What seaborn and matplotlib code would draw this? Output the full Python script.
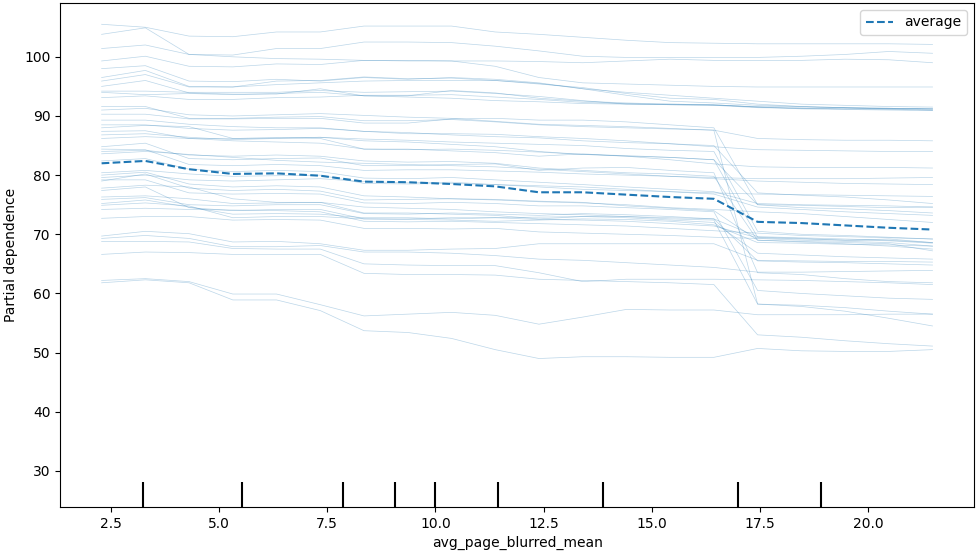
import numpy as np
import pandas as pd
import matplotlib
matplotlib.use("Agg")
import matplotlib.pyplot as plt
import matplotlib.transforms as mtransforms
import seaborn as sns

# ── Data ──────────────────────────────────────────────────────────────────
grid = [2.29, 3.30, 4.31, 5.32, 6.33, 7.34, 8.35, 9.36, 10.37, 11.38,
        12.39, 13.40, 14.41, 15.42, 16.43, 17.44, 18.45, 19.46, 20.47, 21.48]

average = [82.0, 82.4, 81.0, 80.2, 80.3, 79.9, 78.9, 78.8, 78.5, 78.1,
           77.1, 77.1, 76.7, 76.3, 76.0, 72.1, 71.9, 71.5, 71.1, 70.8]

deciles = [3.24, 5.54, 7.87, 9.07, 9.99, 11.44, 13.88, 16.99, 18.91]

ice_lines = [
    [105.5, 105.0, 103.5, 103.4, 104.2, 104.2, 105.2, 105.2, 105.2, 104.2, 103.8, 103.3, 102.8, 102.4, 102.3, 102.2, 102.2, 102.2, 102.2, 102.1],
    [103.8, 104.9, 100.4, 100.3, 101.4, 101.4, 102.5, 102.5, 102.4, 101.8, 101.0, 100.1, 99.9, 99.9, 99.9, 99.9, 100.1, 100.4, 100.9, 100.6],
    [101.4, 102.0, 100.4, 100.0, 99.7, 99.6, 99.4, 99.3, 99.3, 99.3, 99.2, 99.0, 99.3, 99.6, 99.4, 99.4, 99.4, 99.6, 99.5, 99.0],
    [99.3, 100.1, 98.4, 98.3, 98.8, 98.7, 99.4, 99.4, 99.3, 98.4, 96.5, 95.6, 95.4, 95.2, 95.0, 94.9, 94.9, 94.9, 94.9, 94.9],
    [98.0, 98.5, 95.9, 95.8, 96.2, 95.9, 96.5, 96.2, 96.5, 96.2, 95.6, 94.6, 94.0, 93.5, 93.0, 92.5, 92.0, 91.8, 91.6, 91.5],
    [96.5, 97.7, 95.0, 94.9, 95.9, 96.0, 96.6, 96.3, 96.4, 96.0, 95.5, 94.6, 93.5, 92.5, 92.2, 91.8, 91.6, 91.4, 91.3, 91.2],
    [95.9, 97.0, 94.9, 94.9, 95.3, 95.6, 95.9, 96.0, 96.0, 96.0, 95.4, 94.8, 93.8, 93.0, 92.8, 92.0, 91.6, 91.4, 91.2, 91.0],
    [95.0, 96.0, 93.9, 93.7, 93.7, 94.6, 93.4, 93.4, 94.3, 93.9, 93.0, 92.5, 92.2, 92.0, 91.9, 91.5, 91.2, 91.1, 91.0, 90.9],
    [94.2, 94.2, 94.0, 94.0, 94.0, 94.3, 94.0, 94.1, 94.2, 93.8, 93.3, 92.6, 92.0, 92.0, 91.9, 91.5, 91.3, 91.2, 91.1, 91.0],
    [93.1, 93.4, 92.8, 92.8, 93.1, 93.2, 93.5, 93.5, 93.6, 93.2, 92.8, 92.3, 92.1, 91.9, 91.8, 91.4, 91.3, 91.2, 91.3, 91.2],
    [94.0, 93.6, 93.8, 93.6, 93.8, 94.0, 93.4, 93.2, 93.0, 92.6, 92.4, 92.1, 92.0, 91.9, 91.8, 91.6, 91.5, 91.4, 91.3, 91.2],
    [91.6, 91.6, 89.6, 89.6, 89.8, 89.9, 89.2, 89.2, 89.4, 89.0, 88.5, 88.2, 88.0, 87.8, 87.6, 86.2, 86.0, 85.9, 85.9, 85.8],
    [91.0, 91.3, 90.2, 90.0, 90.2, 90.4, 90.1, 89.8, 89.6, 89.1, 88.6, 88.4, 88.2, 87.9, 87.6, 58.2, 57.8, 57.0, 55.8, 54.5],
    [90.3, 90.3, 89.5, 89.5, 89.6, 89.6, 88.8, 88.8, 89.5, 89.6, 89.3, 89.3, 89.0, 88.5, 88.0, 75.0, 74.5, 74.3, 74.0, 73.6],
    [89.3, 89.3, 88.6, 88.2, 88.0, 88.0, 87.4, 87.0, 87.0, 86.9, 86.5, 86.2, 85.8, 85.3, 84.8, 84.3, 84.2, 84.1, 84.0, 84.0],
    [88.5, 88.5, 87.9, 87.6, 87.7, 87.9, 87.4, 87.2, 86.8, 86.5, 86.3, 85.8, 85.5, 85.3, 85.0, 77.0, 76.6, 76.3, 75.8, 75.2],
    [88.0, 88.4, 88.2, 86.2, 86.3, 86.4, 86.1, 85.9, 85.6, 85.4, 85.2, 85.0, 84.5, 84.2, 84.0, 70.5, 70.0, 69.8, 69.5, 69.2],
    [87.4, 87.5, 86.2, 85.8, 85.6, 85.4, 84.4, 84.3, 84.4, 84.2, 83.9, 83.5, 83.3, 83.0, 82.6, 69.5, 69.3, 69.0, 68.9, 68.5],
    [86.8, 87.0, 86.4, 86.0, 86.2, 86.4, 85.8, 85.6, 85.2, 84.8, 84.0, 83.5, 83.2, 83.0, 82.6, 75.0, 74.9, 74.7, 74.5, 74.6],
    [86.2, 86.5, 86.2, 86.2, 86.3, 86.2, 84.4, 84.4, 84.1, 83.8, 83.2, 83.6, 83.2, 82.6, 81.9, 81.4, 81.3, 81.3, 81.3, 81.2],
    [84.8, 85.4, 82.8, 82.6, 82.8, 82.9, 81.6, 81.6, 81.8, 81.9, 80.8, 81.2, 81.3, 80.8, 80.4, 63.5, 63.2, 62.5, 62.0, 61.8],
    [84.4, 84.3, 81.8, 81.6, 81.8, 81.6, 80.8, 80.9, 80.9, 80.7, 80.5, 80.2, 80.0, 79.8, 79.6, 79.4, 79.4, 79.4, 79.5, 79.6],
    [84.0, 84.2, 83.4, 83.2, 83.4, 83.2, 82.4, 82.2, 82.3, 82.0, 81.2, 80.8, 80.4, 80.2, 79.8, 69.0, 68.8, 68.6, 68.4, 67.2],
    [83.6, 84.0, 83.5, 83.0, 82.5, 82.2, 82.0, 81.8, 81.6, 81.4, 81.0, 80.6, 80.2, 79.8, 79.4, 79.0, 78.8, 78.6, 78.5, 78.4],
    [82.4, 82.8, 81.0, 80.6, 80.8, 80.6, 79.5, 79.4, 79.6, 79.2, 78.8, 78.4, 78.0, 77.6, 77.2, 75.2, 75.0, 74.9, 74.8, 74.6],
    [80.4, 80.8, 80.2, 79.8, 79.9, 80.0, 78.6, 78.5, 78.6, 78.4, 78.2, 78.0, 77.6, 77.2, 76.8, 74.6, 74.2, 73.8, 73.5, 73.2],
    [80.0, 80.5, 78.5, 78.0, 78.2, 78.0, 76.5, 76.3, 76.0, 75.8, 75.5, 75.3, 75.0, 74.5, 74.2, 73.8, 73.5, 73.0, 72.5, 72.0],
    [79.6, 80.0, 79.2, 79.0, 79.2, 79.4, 78.9, 78.7, 78.8, 78.4, 78.0, 77.6, 77.4, 77.2, 77.0, 76.8, 76.7, 76.6, 76.5, 76.4],
    [79.2, 79.2, 77.0, 76.8, 76.9, 76.8, 75.3, 75.2, 75.4, 75.2, 74.8, 74.8, 74.5, 74.2, 73.8, 60.5, 60.0, 59.6, 59.2, 59.0],
    [79.0, 80.2, 77.8, 77.4, 77.6, 77.3, 75.8, 75.9, 76.0, 75.9, 75.6, 75.4, 74.8, 74.4, 74.0, 69.0, 68.7, 68.4, 68.0, 67.5],
    [77.8, 78.3, 78.0, 76.0, 75.4, 75.4, 73.6, 73.6, 73.4, 73.2, 72.6, 73.0, 73.0, 72.8, 72.6, 65.5, 65.3, 65.2, 65.0, 64.8],
    [77.4, 78.0, 74.5, 74.0, 74.2, 74.2, 72.6, 72.6, 72.8, 72.8, 72.5, 72.4, 72.2, 71.8, 71.4, 69.4, 69.2, 69.0, 69.2, 68.6],
    [76.3, 76.5, 76.0, 75.2, 75.3, 75.4, 74.6, 74.4, 74.2, 73.8, 73.5, 73.3, 73.0, 72.6, 72.4, 58.2, 58.0, 57.6, 57.0, 56.5],
    [75.9, 76.2, 75.0, 74.8, 75.0, 75.0, 73.5, 73.4, 73.6, 73.4, 73.2, 73.5, 73.3, 73.0, 72.6, 69.6, 69.4, 69.2, 69.0, 68.6],
    [75.2, 75.8, 74.6, 73.4, 73.5, 73.4, 72.8, 72.8, 72.6, 72.8, 72.9, 73.0, 72.8, 72.4, 72.0, 66.8, 66.5, 66.2, 66.0, 65.8],
    [74.9, 75.3, 74.8, 72.8, 73.0, 73.0, 72.6, 72.5, 72.4, 72.2, 72.4, 72.6, 72.5, 72.2, 71.6, 68.6, 68.5, 68.3, 68.2, 68.0],
    [74.2, 74.4, 74.2, 74.1, 74.0, 73.8, 72.2, 72.1, 72.2, 72.0, 71.8, 71.6, 71.4, 71.0, 70.6, 70.2, 69.8, 69.6, 69.4, 69.2],
    [72.7, 73.0, 73.0, 72.4, 72.5, 72.4, 71.0, 71.0, 70.9, 71.0, 70.4, 70.2, 70.0, 69.8, 69.5, 69.3, 69.0, 68.8, 68.6, 68.0],
    [69.7, 70.5, 70.1, 68.7, 68.8, 68.4, 67.3, 67.3, 67.5, 67.6, 68.4, 68.4, 68.4, 68.4, 68.4, 65.6, 65.5, 65.4, 65.4, 65.3],
    [69.3, 69.8, 69.3, 67.9, 67.9, 68.1, 67.0, 67.0, 66.8, 66.4, 65.8, 65.6, 65.2, 64.8, 64.4, 63.6, 63.6, 63.7, 63.8, 63.9],
    [68.8, 68.8, 68.7, 67.6, 67.5, 67.5, 65.0, 64.8, 64.7, 64.7, 63.5, 62.0, 62.4, 62.4, 62.4, 62.3, 62.2, 62.0, 61.8, 61.5],
    [66.6, 67.0, 66.9, 66.6, 66.6, 66.6, 63.4, 63.2, 63.2, 63.1, 62.4, 62.2, 62.0, 61.8, 61.5, 53.0, 52.6, 52.0, 51.5, 51.1],
    [62.2, 62.5, 62.0, 59.9, 59.9, 58.1, 56.2, 56.5, 56.8, 56.3, 54.8, 56.0, 57.3, 57.2, 57.2, 56.4, 56.4, 56.4, 56.5, 56.5],
    [61.8, 62.3, 61.8, 58.9, 58.9, 57.1, 53.7, 53.4, 52.4, 50.5, 49.0, 49.3, 49.3, 49.2, 49.2, 50.7, 50.3, 50.2, 50.2, 50.5],
]

feature = "avg_page_blurred_mean"

# long format for seaborn
rows = []
for i, line in enumerate(ice_lines):
    for g, v in zip(grid, line):
        rows.append((i, g, v))
ice_df = pd.DataFrame(rows, columns=["sample", feature, "pd"])
avg_df = pd.DataFrame({feature: grid, "pd": average})

# ── Plot ─────────────────────────────────────────────────────────────────
fig, ax = plt.subplots(figsize=(9.78, 5.53), dpi=100)
fig.subplots_adjust(left=0.0614, right=0.996, top=0.9946, bottom=0.0832)

sns.lineplot(data=ice_df, x=feature, y="pd", units="sample", estimator=None,
             color="tab:blue", alpha=0.3, lw=0.5, ax=ax, legend=False)
sns.lineplot(data=avg_df, x=feature, y="pd", color="tab:blue", ls="--",
             lw=1.5, label="average", ax=ax)

# deciles as short black ticks on the bottom
trans = mtransforms.blended_transform_factory(ax.transData, ax.transAxes)
ax.vlines(deciles, 0, 0.05, transform=trans, color="k")

ax.set_ylim(23.9, 109.1)
ax.set_xlabel(feature)
ax.set_ylabel("Partial dependence")
ax.legend(loc="upper right")

fig.savefig("out.png", dpi=100)
